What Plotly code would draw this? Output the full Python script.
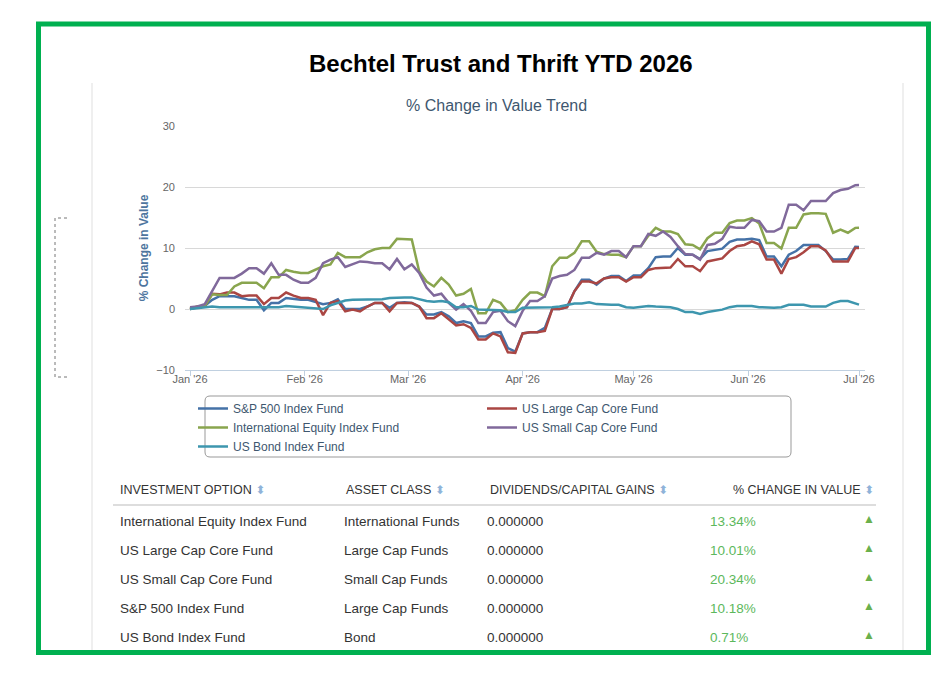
import pandas as pd
import plotly.graph_objects as go

# the page body keeps its 8px margin, so the figure is 16px smaller than the window
PAGE_W, PAGE_H, BODY = 951, 686, 8
W, H = PAGE_W - 2 * BODY, PAGE_H - 2 * BODY

# sampled every other day from Jan 1 to Jun 30, plus the Jul 1 close
dates = list(pd.date_range("2026-01-01", "2026-06-30", freq="2D")) + [pd.Timestamp("2026-07-01")]

sp500 = [0.0, 0.3, 0.5, 1.5, 2.1, 2.1, 2.1, 1.8, 1.5, 1.5,
         -0.2, 1.0, 1.0, 1.8, 1.6, 1.5, 1.5, 1.2, 0.8, 1.0,
         1.6, 0.0, 0.0, 0.0, 0.4, 1.0, 1.0, 0.2, 1.0, 1.1,
         1.0, 0.4, -0.9, -0.9, -0.5, -1.2, -2.3, -2.0, -2.3, -4.5,
         -4.5, -3.9, -3.8, -6.4, -7.0, -4.0, -3.8, -3.8, -3.1, 0.0,
         0.0, 0.3, 2.9, 4.8, 4.8, 4.0, 5.0, 5.4, 5.4, 4.6,
         5.5, 5.5, 6.7, 8.5, 8.6, 8.6, 10.0, 8.9, 8.9, 8.2,
         9.5, 9.7, 9.9, 11.0, 11.4, 11.4, 11.5, 11.3, 8.6, 8.6,
         7.0, 8.9, 9.5, 10.5, 10.5, 10.5, 9.5, 8.1, 8.1, 8.2,
         10.2, 10.18]

large_cap = [0.0, 0.4, 0.5, 2.5, 2.4, 2.7, 2.7, 2.1, 2.2, 2.2,
             0.8, 1.8, 1.8, 2.7, 2.2, 1.8, 1.8, 1.5, -1.0, 1.0,
             1.3, -0.4, -0.1, -0.4, 0.4, 1.0, 1.0, -0.4, 1.0, 1.0,
             1.0, 0.4, -1.5, -1.5, -0.7, -1.7, -2.7, -2.5, -3.1, -5.0,
             -5.0, -4.0, -4.5, -7.1, -7.2, -4.0, -3.8, -3.8, -3.6, 0.0,
             0.0, 0.3, 2.9, 4.5, 4.5, 4.2, 5.0, 5.2, 5.2, 4.5,
             5.2, 5.2, 6.4, 6.7, 6.7, 6.8, 8.2, 7.0, 7.0, 6.2,
             7.8, 8.1, 8.3, 9.5, 10.3, 10.5, 11.1, 10.6, 8.1, 8.1,
             5.8, 8.2, 8.5, 9.3, 10.3, 10.3, 9.6, 7.8, 7.8, 7.8,
             10.0, 10.01]

intl_equity = [0.0, 0.4, 0.5, 2.4, 2.3, 2.3, 3.7, 4.3, 4.3, 4.3,
               3.4, 5.2, 5.2, 6.4, 6.1, 5.9, 5.9, 6.4, 7.0, 7.3,
               9.2, 8.5, 8.5, 8.5, 9.3, 9.8, 10.0, 10.0, 11.5, 11.5,
               11.4, 6.2, 4.5, 3.7, 5.1, 4.0, 2.2, 2.5, 3.3, -0.7,
               -0.7, 1.5, 1.0, -0.5, -0.2, 1.5, 2.7, 2.7, 2.1, 7.0,
               8.4, 8.4, 9.2, 11.1, 11.1, 9.4, 9.0, 8.9, 8.9, 8.5,
               10.3, 10.3, 12.0, 13.3, 12.7, 12.7, 12.3, 10.6, 10.5, 9.8,
               11.6, 12.5, 12.5, 14.1, 14.5, 14.5, 14.9, 14.0, 10.8, 10.8,
               9.9, 13.3, 13.3, 15.5, 15.7, 15.7, 15.6, 12.5, 13.0, 12.5,
               13.3, 13.34]

small_cap = [0.3, 0.4, 0.8, 3.0, 5.1, 5.1, 5.1, 5.8, 6.7, 6.7,
             5.8, 7.5, 5.6, 5.6, 4.8, 4.3, 4.3, 5.1, 7.5, 8.1,
             8.5, 6.9, 7.3, 7.8, 7.7, 7.5, 7.5, 6.5, 8.2, 6.5,
             7.3, 5.9, 3.5, 2.2, 2.5, 1.0, -0.1, 0.8, -0.3, -2.3,
             -2.3, -0.5, -0.3, -2.0, -2.8, -0.3, 1.3, 1.3, 2.1, 5.0,
             5.4, 5.6, 6.4, 8.4, 8.4, 9.2, 8.9, 9.5, 9.5, 8.5,
             10.3, 10.3, 12.3, 12.0, 12.7, 11.8, 10.3, 9.0, 8.9, 8.1,
             10.5, 10.7, 11.5, 13.5, 13.3, 13.3, 14.6, 14.4, 12.7, 12.7,
             13.3, 17.1, 17.1, 16.2, 17.7, 17.7, 17.7, 19.0, 19.5, 19.7,
             20.3, 20.34]

bond = [0.0, 0.1, 0.2, 0.4, 0.3, 0.3, 0.3, 0.3, 0.3, 0.3,
        0.2, 0.2, 0.3, 0.5, 0.4, 0.3, 0.3, 0.2, 0.0, 0.6,
        1.0, 1.4, 1.5, 1.5, 1.5, 1.5, 1.6, 1.8, 1.9, 1.9,
        1.9, 1.6, 1.3, 1.2, 1.3, 1.1, 0.3, 0.3, 0.5, -0.1,
        -0.1, -0.1, -0.2, -0.5, -0.5, 0.2, 0.2, 0.2, 0.2, 0.3,
        0.4, 0.6, 0.9, 0.9, 1.1, 0.8, 0.7, 0.7, 0.7, 0.3,
        0.2, 0.4, 0.5, 0.4, 0.4, 0.3, 0.0, -0.5, -0.5, -0.8,
        -0.5, -0.3, -0.1, 0.3, 0.5, 0.5, 0.5, 0.3, 0.2, 0.2,
        0.3, 0.7, 0.7, 0.7, 0.4, 0.4, 0.4, 1.0, 1.3, 1.3,
        0.9, 0.71]

series_names = ["S&P 500 Index Fund", "US Large Cap Core Fund", "International Equity Index Fund",
                "US Small Cap Core Fund", "US Bond Index Fund"]
series_values = [sp500, large_cap, intl_equity, small_cap, bond]
series_colors = ["#4572A7", "#AA4643", "#89A54E", "#80699B", "#3D96AE"]
series_legend = ["legend", "legend2", "legend", "legend2", "legend"]

# table below the chart
table_headers = ["INVESTMENT OPTION", "ASSET CLASS", "DIVIDENDS/CAPITAL GAINS", "% CHANGE IN VALUE"]
fund_names = ["International Equity Index Fund", "US Large Cap Core Fund", "US Small Cap Core Fund",
              "S&P 500 Index Fund", "US Bond Index Fund"]
asset_classes = ["International Funds", "Large Cap Funds", "Small Cap Funds", "Large Cap Funds", "Bond"]
dividends = [0.0, 0.0, 0.0, 0.0, 0.0]
pct_change = [13.34, 10.01, 20.34, 10.18, 0.71]

for v in series_values:
    assert len(v) == len(dates), len(v)


# page pixel -> paper fraction
def px(x):
    return (x - BODY) / W


def py(y):
    return 1 - (y - BODY) / H


fig = go.Figure()
for name, vals, color, leg in zip(series_names, series_values, series_colors, series_legend):
    fig.add_trace(go.Scatter(x=dates, y=vals, mode="lines", name=name, legend=leg,
                             line=dict(color=color, width=2.5)))

# x axis: Jan 1 sits at px 190 and Jul 1 at px 859 inside a 185..865 plot box
day_px = (859 - 190) / 181
x_start = pd.Timestamp("2026-01-01") - pd.Timedelta(days=(190 - 185) / day_px)
x_end = pd.Timestamp("2026-07-01") + pd.Timedelta(days=(865 - 859) / day_px)

FONT = "Liberation Sans, Arial, sans-serif"
legend_style = dict(orientation="v", xanchor="left", yanchor="top", bgcolor="rgba(0,0,0,0)",
                    borderwidth=0, font=dict(family=FONT, size=12, color="#3E576F"),
                    itemwidth=30, tracegroupgap=0, itemclick=False)

fig.update_layout(
    width=W, height=H,
    margin=dict(l=0, r=0, t=0, b=0, autoexpand=False),
    paper_bgcolor="white", plot_bgcolor="white",
    font=dict(family=FONT),
    showlegend=True,
    legend=dict(x=px(193), y=py(394), **legend_style),
    legend2=dict(x=px(482), y=py(394), **legend_style),
    xaxis=dict(
        domain=[px(185), px(865)], type="date", range=[x_start, x_end],
        tick0="2026-01-01", dtick="M1", tickformat="%b '%y",
        ticks="outside", ticklen=5, tickcolor="#C0D0E0",
        showline=True, linecolor="#C0D0E0", linewidth=1,
        showgrid=False, zeroline=False, ticklabelstandoff=-6,
        tickfont=dict(size=11, color="#666666"),
    ),
    yaxis=dict(
        domain=[py(370), py(126)], range=[-10, 30], dtick=10,
        showgrid=True, gridcolor="#D8D8D8", gridwidth=1, zeroline=False,
        showline=False, ticks="", ticklabelstandoff=9,
        tickfont=dict(size=11, color="#666666"),
        title=dict(text="<b>% Change in Value</b>", standoff=5,
                   font=dict(size=12, color="#4D759E")),
    ),
)

shapes = [
    # outer green frame
    dict(type="rect", xref="paper", yref="paper", x0=px(38.5), x1=px(928.5), y0=py(24), y1=py(652.5),
         line=dict(color="#00B050", width=5)),
    # faint card edges
    dict(type="line", xref="paper", yref="paper", x0=px(92), x1=px(92), y0=py(83), y1=py(650),
         line=dict(color="#EFEFEF", width=2)),
    dict(type="line", xref="paper", yref="paper", x0=px(903), x1=px(903), y0=py(83), y1=py(650),
         line=dict(color="#EFEFEF", width=2)),
    # dotted bracket on the left
    dict(type="path", xref="paper", yref="paper",
         path=f"M {px(67)},{py(218)} L {px(55)},{py(218)} L {px(55)},{py(377)} L {px(67)},{py(377)}",
         line=dict(color="#777777", width=1, dash="dot")),
    # header separator of the table
    dict(type="line", xref="paper", yref="paper", x0=px(113), x1=px(876), y0=py(505), y1=py(505),
         line=dict(color="#DDDDDD", width=2)),
]

# rounded legend box
bx0, bx1, by0, by1, r = 205, 791, 396, 457, 5
box_path = (f"M {px(bx0 + r)},{py(by0)} L {px(bx1 - r)},{py(by0)} Q {px(bx1)},{py(by0)} {px(bx1)},{py(by0 + r)} "
            f"L {px(bx1)},{py(by1 - r)} Q {px(bx1)},{py(by1)} {px(bx1 - r)},{py(by1)} "
            f"L {px(bx0 + r)},{py(by1)} Q {px(bx0)},{py(by1)} {px(bx0)},{py(by1 - r)} "
            f"L {px(bx0)},{py(by0 + r)} Q {px(bx0)},{py(by0)} {px(bx0 + r)},{py(by0)} Z")
shapes.append(dict(type="path", xref="paper", yref="paper", path=box_path,
                   line=dict(color="#999999", width=1)))

annotations = [
    dict(text="<b>Bechtel Trust and Thrift YTD 2026</b>", x=px(501), y=py(64),
         font=dict(family=FONT, size=24, color="#000000")),
    dict(text="% Change in Value Trend", x=px(497), y=py(105),
         font=dict(family=FONT, size=16, color="#3E576F")),
]

sort_icon = "<span style='font-family:DejaVu Sans;color:#8FB3D9;font-size:12px'>⬍</span>"
header_x = [118, 344, 488, 876]
for i, (label, hx) in enumerate(zip(table_headers, header_x)):
    annotations.append(dict(text=f"{label} {sort_icon}", x=px(hx), y=py(490),
                            xanchor="right" if i == 3 else "left",
                            font=dict(family=FONT, size=12.5, color="#333333")))

for i in range(len(fund_names)):
    ry = py(521 + 29 * i)
    row_font = dict(family=FONT, size=13.5, color="#333333")
    annotations += [
        dict(text=fund_names[i], x=px(118), y=ry, xanchor="left", font=row_font),
        dict(text=asset_classes[i], x=px(342), y=ry, xanchor="left", font=row_font),
        dict(text=f"{dividends[i]:.6f}", x=px(485), y=ry, xanchor="left", font=row_font),
        dict(text=f"{pct_change[i]:.2f}%", x=px(708), y=ry, xanchor="left",
             font=dict(family=FONT, size=13.5, color="#5CB85C")),
        dict(text="▲" if pct_change[i] >= 0 else "▼", x=px(869), y=py(519 + 29 * i), xanchor="center",
             font=dict(family=FONT, size=12, color="#6AB04C")),
    ]

for a in annotations:
    a.setdefault("xref", "paper")
    a.setdefault("yref", "paper")
    a.setdefault("showarrow", False)
    a.setdefault("yanchor", "middle")
    a.setdefault("xanchor", "center")

fig.update_layout(shapes=shapes, annotations=annotations)

fig.write_html("out.html")
